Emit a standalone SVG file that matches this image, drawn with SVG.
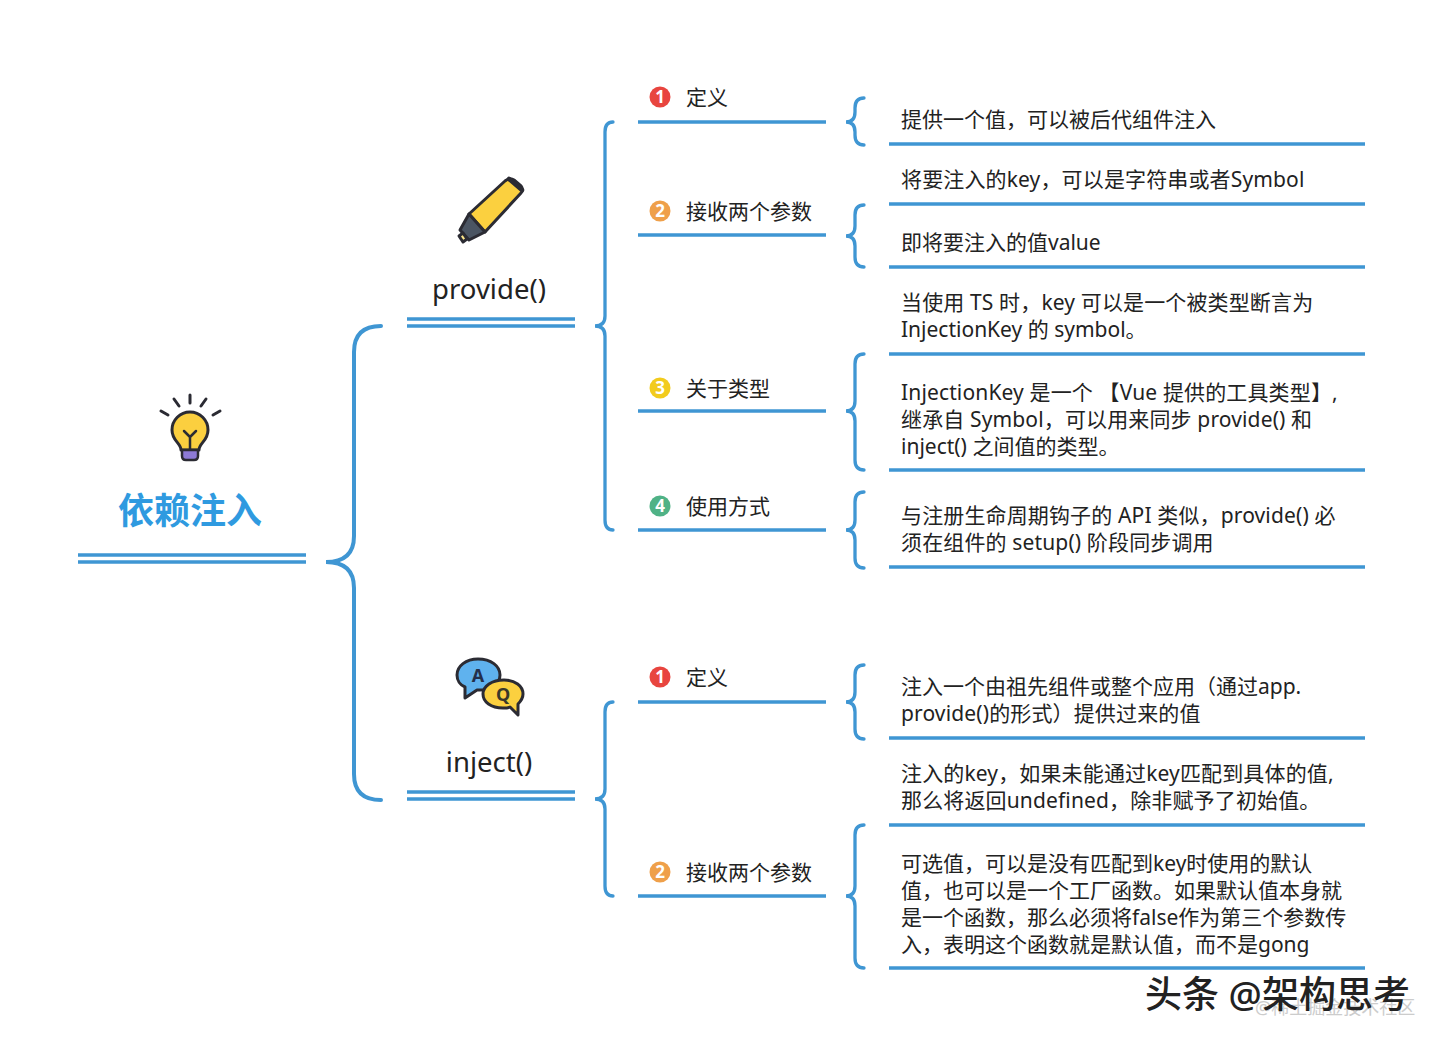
<svg xmlns="http://www.w3.org/2000/svg" width="1440" height="1045" viewBox="0 0 1440 1045">
<style>
text{font-family:"Noto Sans","Noto Sans CJK SC",sans-serif;fill:#222}
.t{font-size:21px}
.w{letter-spacing:.14px}
.h{font-size:27.500px}
.l{fill:none;stroke:#3f96d3;stroke-width:3.300}
.m{fill:none;stroke:#3f96d3;stroke-width:3.300;stroke-linecap:round}
.n{font-size:17px;font-weight:700;fill:#fff;text-anchor:middle}
.o{stroke:#2b2b33;stroke-width:3;stroke-linejoin:round;stroke-linecap:round}
</style>
<rect width="1440" height="1045" fill="#fff"/>
<g id="connectors">
<path class="m" style="stroke-width:4" d="M381 326Q354 326 354 352L354 536Q354 562 326 562Q354 562 354 588L354 774Q354 800 381 800"/>
<path class="m" d="M613 122Q605 122 605 132L605 316Q605 326 595 326Q605 326 605 336L605 520Q605 530 613 530"/>
<path class="m" d="M613 702Q605 702 605 712L605 789Q605 799 595 799Q605 799 605 809L605 886Q605 896 613 896"/>
<path class="m" d="M864 98Q855 98 855 108L855 112Q855 122 846 122Q855 122 855 132L855 135Q855 145 864 145"/>
<path class="m" d="M864 205Q855 205 855 215L855 226Q855 236 846 236Q855 236 855 246L855 257Q855 267 864 267"/>
<path class="m" d="M864 354Q855 354 855 364L855 401Q855 411 846 411Q855 411 855 421L855 460Q855 470 864 470"/>
<path class="m" d="M864 492Q855 492 855 502L855 520Q855 530 846 530Q855 530 855 540L855 558Q855 568 864 568"/>
<path class="m" d="M864 665Q855 665 855 675L855 692Q855 702 846 702Q855 702 855 712L855 729Q855 739 864 739"/>
<path class="m" d="M864 825Q855 825 855 835L855 886Q855 896 846 896Q855 896 855 906L855 958Q855 968 864 968"/>
</g>
<g id="root">
<g class="o" transform="translate(190,0)">
<path d="M-29 411l7 4M-16 399l5 7M0 395v8M16 399l-5 7M30 411l-7 4" fill="none"/>
<path d="M-9 450C-9 443-18 441-18 430A18 18 0 0 1 18 430C18 441 9 443 9 450Z" fill="#fbcf3f"/>
<path d="M-6 431l6 6l6-6M0 437v13" fill="none" stroke-width="2.500"/>
<path d="M-8 450h16v6q0 4-4 4h-8q-4 0-4-4Z" fill="#8d7ad6" stroke-width="2.500"/>
</g>
<text x="190" y="524" text-anchor="middle" style="font-size:36px;font-weight:700;fill:#2f9ae0">依赖注入</text>
<path d="M78 555H306M78 562H306" fill="none" stroke="#3f96d3" stroke-width="3.500"/>
</g>
<g id="provide">
<path class="o" d="M469 214L505 181Q510 177 514 180L521 186Q524 190 521 193L485 232Z" fill="#fbd03f"/>
<path class="o" d="M469 214L485 232L469 240L460 230Z" fill="#4b5563"/>
<path class="o" d="M459 236L463 233L467 239L463 242Z" fill="#fde68a" stroke-width="2"/>
<path d="M509 179L522 190" fill="none" stroke="#2b2b33" stroke-width="4.500" stroke-linecap="round"/>
<text class="h" x="489" y="299" text-anchor="middle">provide()</text>
<path class="l" d="M407 319H575M407 326H575"/>
</g>
<g id="inject">
<path class="o" d="M478 659c-12 0-21 7-21 16c0 5 3 10 8 12l0 11l12-8c13 1 23-6 23-15c0-9-9-16-22-16Z" fill="#5fb2ee"/>
<path class="o" d="M504 680c-12 0-21 6-21 14c0 8 8 14 20 14c3 0 5 0 7-1l8 8l0-11c3-3 5-6 5-10c0-8-8-14-19-14Z" fill="#fbd03f"/>
<text x="478" y="682" text-anchor="middle" style="font-size:18px;font-weight:700;fill:#23304a">A</text>
<text x="503" y="701" text-anchor="middle" style="font-size:18px;font-weight:700;fill:#3a3a2a">Q</text>
<text class="h" x="489" y="772" text-anchor="middle">inject()</text>
<path class="l" d="M407 792H575M407 799H575"/>
</g>
<g id="p1"><circle cx="660" cy="97" r="10.500" fill="#e8453f"/><text class="n" x="660" y="103">1</text><text class="t" x="686" y="105">定义</text><path class="l" d="M638 122H826"/></g>
<g id="p2"><circle cx="660" cy="211" r="10.500" fill="#efa04a"/><text class="n" x="660" y="217">2</text><text class="t" x="686" y="219">接收两个参数</text><path class="l" d="M638 235H826"/></g>
<g id="p3"><circle cx="660" cy="388" r="10.500" fill="#f2cb1d"/><text class="n" x="660" y="394">3</text><text class="t" x="686" y="396">关于类型</text><path class="l" d="M638 411H826"/></g>
<g id="p4"><circle cx="660" cy="506" r="10.500" fill="#4fb286"/><text class="n" x="660" y="512">4</text><text class="t" x="686" y="514">使用方式</text><path class="l" d="M638 530H826"/></g>
<g id="i1"><circle cx="660" cy="677" r="10.500" fill="#e8453f"/><text class="n" x="660" y="683">1</text><text class="t" x="686" y="685">定义</text><path class="l" d="M638 702H826"/></g>
<g id="i2"><circle cx="660" cy="872" r="10.500" fill="#efa04a"/><text class="n" x="660" y="878">2</text><text class="t" x="686" y="880">接收两个参数</text><path class="l" d="M638 896H826"/></g>
<g id="d1"><text class="t" x="901" y="127">提供一个值，可以被后代组件注入</text><path class="l" d="M889 144H1365"/></g>
<g id="d2"><text class="t w" x="901" y="187">将要注入的key，可以是字符串或者Symbol</text><path class="l" d="M889 204H1365"/></g>
<g id="d3"><text class="t" x="901" y="250">即将要注入的值value</text><path class="l" d="M889 267H1365"/></g>
<g id="d4"><text class="t w" x="901" y="310">当使用 TS 时，key 可以是一个被类型断言为</text><text class="t" x="901" y="337">InjectionKey 的 symbol。</text><path class="l" d="M889 354H1365"/></g>
<g id="d5"><text class="t w" x="901" y="400">InjectionKey 是一个 【Vue 提供的工具类型】,</text><text class="t w" x="901" y="427">继承自 Symbol，可以用来同步 provide() 和</text><text class="t" x="901" y="454">inject() 之间值的类型。</text><path class="l" d="M889 470H1365"/></g>
<g id="d6"><text class="t w" x="901" y="523">与注册生命周期钩子的 API 类似，provide() 必</text><text class="t w" x="901" y="550">须在组件的 setup() 阶段同步调用</text><path class="l" d="M889 567H1365"/></g>
<g id="d7"><text class="t" x="901" y="694">注入一个由祖先组件或整个应用（通过app.</text><text class="t w" x="901" y="721">provide()的形式）提供过来的值</text><path class="l" d="M889 738H1365"/></g>
<g id="d8"><text class="t w" x="901" y="781">注入的key，如果未能通过key匹配到具体的值,</text><text class="t w" x="901" y="808">那么将返回undefined，除非赋予了初始值。</text><path class="l" d="M889 825H1365"/></g>
<g id="d9"><text class="t" x="901" y="871">可选值，可以是没有匹配到key时使用的默认</text><text class="t" x="901" y="898">值，也可以是一个工厂函数。如果默认值本身就</text><text class="t" x="901" y="925">是一个函数，那么必须将false作为第三个参数传</text><text class="t" x="901" y="952">入，表明这个函数就是默认值，而不是gong</text><path class="l" d="M889 968H1365"/></g>
<g id="watermark">
<text x="1255" y="1014" style="font-size:18px;fill:#ccc">@稀土掘金技术社区</text>
<text x="1145" y="1008" style="font-size:37px;font-weight:500;fill:#222">头条 @架构思考</text>
</g>
</svg>
